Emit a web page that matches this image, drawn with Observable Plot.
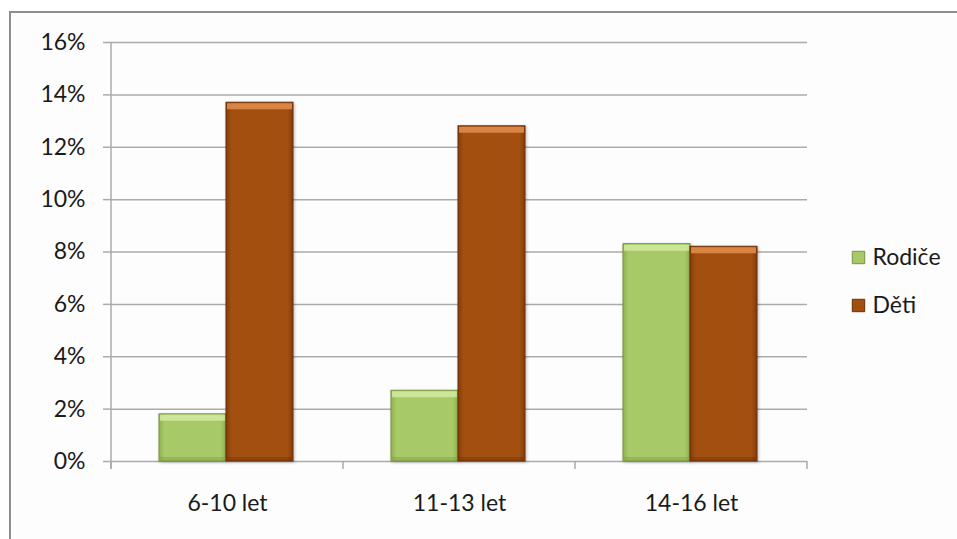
<!DOCTYPE html>
<html>
<head>
<meta charset="utf-8">
<script src="https://cdn.jsdelivr.net/npm/d3@7"></script>
<script src="https://cdn.jsdelivr.net/npm/@observablehq/plot@0.6"></script>
<style>
  html, body { margin: 0; padding: 0; background: #ffffff; }
  #wrap { position: relative; width: 957px; height: 539px; overflow: hidden; }
  #panel {
    position: absolute; left: 9px; top: 11px; right: -10px; bottom: -10px;
    border-top: 2px solid #8e8e8e; border-left: 2px solid #8e8e8e;
    background: #fdfdfd;
  }
  #chart { position: absolute; left: 0; top: 0; }
  #chart svg { background: transparent; }
  .bars rect { filter: drop-shadow(1.5px 1px 1.5px rgba(0,0,0,0.28)); }
</style>
</head>
<body>
<div id="wrap">
  <div id="panel"></div>
  <div id="chart"></div>
</div>
<script>
// Age groups, series names and shares (in percent)
const categories = ["6-10 let", "11-13 let", "14-16 let"];
const series = ["Rodiče", "Děti"];
const rodice = [1.8, 2.7, 8.3];
const deti = [13.7, 12.8, 8.2];
const yTicks = [0, 2, 4, 6, 8, 10, 12, 14, 16];

const values = [rodice, deti];
const rows = categories.flatMap((c, i) =>
  series.map((s, j) => ({category: c, series: s, value: values[j][i]}))
);

// Per-series look: base fill, gradient id, bevel highlight, outline, bar placement in the band
const looks = {
  "Rodiče": {id: "gRodice", edge: "#8fb050", mid: "#a7c967", light: "#d0e89c", dark: "#76963f", insetLeft: 48, insetRight: 117},
  "Děti":   {id: "gDeti",   edge: "#853c08", mid: "#a24f10", light: "#e08a4a", dark: "#6a2e05", insetLeft: 115, insetRight: 50}
};

const gridColor = "#ababab";

// Gradient definitions for the bevelled bars
function gradients() {
  const defs = d3.create("svg:defs");
  for (const s of series) {
    const L = looks[s];
    const g = defs.append("linearGradient").attr("id", L.id).attr("x1", 0).attr("x2", 1).attr("y1", 0).attr("y2", 0);
    g.append("stop").attr("offset", "0%").attr("stop-color", L.edge);
    g.append("stop").attr("offset", "8%").attr("stop-color", L.mid);
    g.append("stop").attr("offset", "92%").attr("stop-color", L.mid);
    g.append("stop").attr("offset", "100%").attr("stop-color", L.edge);
  }
  return defs.node();
}

// Vertical axis line and category separator ticks below the baseline
function axisLines(index, scales, vals, dims) {
  const x = scales.x;
  const bw = typeof x.bandwidth === "function"
    ? x.bandwidth()
    : (dims.width - dims.marginLeft - dims.marginRight) / categories.length;
  const edges = categories.map((c) => x(c)).concat([x(categories[categories.length - 1]) + bw]);
  const y0 = dims.height - dims.marginBottom;
  const g = d3.create("svg:g").attr("stroke", gridColor).attr("stroke-width", 1.5);
  g.append("line")
    .attr("x1", dims.marginLeft).attr("x2", dims.marginLeft)
    .attr("y1", dims.marginTop).attr("y2", y0 + 8);
  for (const e of edges) {
    g.append("line").attr("x1", e).attr("x2", e).attr("y1", y0).attr("y2", y0 + 8);
  }
  return g.node();
}

const barMarks = series.flatMap((s) => {
  const L = looks[s];
  const data = rows.filter((d) => d.series === s);
  return [
    Plot.barY(data, {
      x: "category", y: "value",
      fill: `url(#${L.id})`, stroke: L.dark, strokeWidth: 1,
      insetLeft: L.insetLeft, insetRight: L.insetRight,
      className: "bars"
    }),
    // top bevel highlight
    Plot.tickY(data, {
      x: "category", y: "value",
      stroke: L.light, strokeWidth: 6, dy: 3.5, strokeOpacity: 0.9,
      insetLeft: L.insetLeft + 1, insetRight: L.insetRight + 1
    }),
    // bottom bevel shade
    Plot.tickY(data, {
      x: "category", y: 0,
      stroke: L.dark, strokeWidth: 4, dy: -2.5, strokeOpacity: 0.35,
      insetLeft: L.insetLeft + 1, insetRight: L.insetRight + 1
    })
  ];
});

const legendMarks = series.flatMap((s, i) => {
  const L = looks[s];
  return [
    Plot.dot([s], {
      frameAnchor: "right", dx: 51, dy: 5.5 + 48 * i,
      symbol: "square", r: 7, fill: L.mid, stroke: L.dark, strokeWidth: 1
    }),
    Plot.text([s], {
      frameAnchor: "right", dx: 65, dy: 5.5 + 48 * i,
      text: (d) => d, textAnchor: "start", fill: "#1a1a1a"
    })
  ];
});

const chart = Plot.plot({
  width: 957,
  height: 539,
  marginLeft: 111,
  marginRight: 150,
  marginTop: 42,
  marginBottom: 78,
  style: {fontFamily: "Lato, 'Open Sans', sans-serif", fontSize: "23px", color: "#1a1a1a", background: "transparent"},
  x: {domain: categories, padding: 0, label: null},
  y: {domain: [0, 16], label: null},
  marks: [
    gradients,
    Plot.gridY(yTicks, {stroke: gridColor, strokeOpacity: 1, strokeWidth: 1.5}),
    Plot.axisY(yTicks, {tickSize: 8, tickPadding: 18, stroke: gridColor, strokeWidth: 1.5, tickFormat: (d) => d + "%", label: null}),
    Plot.axisX({tickSize: 0, tickPadding: 33, label: null}),
    axisLines,
    ...barMarks,
    ...legendMarks
  ]
});

document.getElementById("chart").appendChild(chart);
</script>
</body>
</html>
